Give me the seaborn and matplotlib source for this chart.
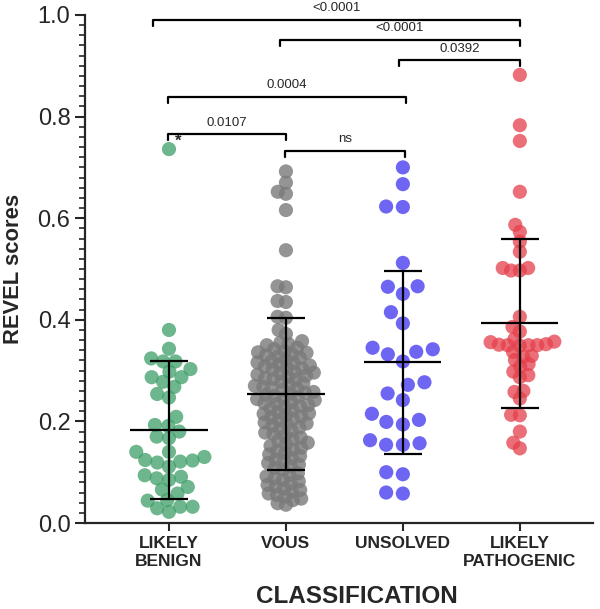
import numpy as np
import pandas as pd
import seaborn as sns
import matplotlib.pyplot as plt

# categories and colours
categories = ["LIKELY\nBENIGN", "VOUS", "UNSOLVED", "LIKELY\nPATHOGENIC"]
colors = ["#3E9E67", "#7A7A7A", "#6E66F2", "#E53F4B"]
alphas = [0.75, 0.8, 1.0, 0.75]

# REVEL scores
benign = [0.736, 0.380, 0.343, 0.324, 0.318, 0.318, 0.298, 0.303, 0.287, 0.287,
          0.278, 0.268, 0.254, 0.247, 0.209, 0.193, 0.180, 0.191, 0.170, 0.167,
          0.140, 0.140, 0.130, 0.123, 0.121, 0.111, 0.119, 0.124, 0.094, 0.088,
          0.091, 0.085, 0.071, 0.058, 0.066, 0.032, 0.032, 0.022, 0.044, 0.029,
          0.045]
vous = [0.692, 0.670, 0.652, 0.648, 0.616, 0.537, 0.466, 0.464, 0.437, 0.435,
        0.406, 0.404, 0.380, 0.372,
        0.350, 0.355, 0.345, 0.352, 0.358, 0.342,
        0.335, 0.330, 0.325, 0.338, 0.322, 0.332, 0.328, 0.336,
        0.318, 0.312, 0.305, 0.310, 0.302, 0.315, 0.308, 0.316, 0.304,
        0.298, 0.292, 0.285, 0.295, 0.288, 0.282, 0.296, 0.290, 0.284,
        0.275, 0.268, 0.262, 0.278, 0.272, 0.265, 0.270, 0.264,
        0.258, 0.252, 0.245, 0.255, 0.248, 0.242, 0.256, 0.250, 0.244,
        0.238, 0.232, 0.225, 0.235, 0.228, 0.222, 0.236, 0.230,
        0.218, 0.212, 0.205, 0.215, 0.208, 0.202, 0.216, 0.210,
        0.198, 0.192, 0.185, 0.195, 0.188, 0.182, 0.196,
        0.178, 0.172, 0.165, 0.175, 0.168, 0.162,
        0.158, 0.152, 0.145, 0.155, 0.148, 0.142,
        0.138, 0.132, 0.125, 0.135, 0.128, 0.122,
        0.118, 0.112, 0.105, 0.115, 0.108,
        0.098, 0.092, 0.085, 0.095, 0.088, 0.082,
        0.078, 0.072, 0.065, 0.075, 0.068, 0.062,
        0.058, 0.052, 0.045, 0.055, 0.048,
        0.039, 0.036]
unsolved = [0.700, 0.667, 0.623, 0.622, 0.512, 0.465, 0.466, 0.451, 0.415, 0.393,
            0.332, 0.342, 0.345, 0.337, 0.318, 0.277, 0.272, 0.255, 0.242, 0.203,
            0.194, 0.199, 0.215, 0.157, 0.154, 0.154, 0.163, 0.096, 0.100, 0.058,
            0.060]
pathogenic = [0.882, 0.783, 0.752, 0.652, 0.587, 0.573, 0.554, 0.534, 0.502, 0.497,
              0.497, 0.502, 0.406, 0.386, 0.377, 0.362, 0.350, 0.350, 0.350, 0.351,
              0.349, 0.352, 0.357, 0.356, 0.329, 0.337, 0.327, 0.321, 0.308, 0.313,
              0.298, 0.291, 0.287, 0.260, 0.258, 0.245, 0.213, 0.212, 0.180, 0.158,
              0.147]

# mean and SD bars as drawn in the figure
mean_vals = [0.183, 0.254, 0.316, 0.393]
sd_vals = [0.136, 0.150, 0.180, 0.166]

# significance brackets (category positions)
br_left = [-0.14, 0.95, 1.97, -0.01, -0.01, 0.99]
br_right = [3.0, 3.0, 3.0, 2.03, 1.0, 2.02]
br_y = [0.990, 0.951, 0.911, 0.839, 0.765, 0.733]
br_text = ["<0.0001", "<0.0001", "0.0392", "0.0004", "0.0107", "ns"]

# marker size used for swarm spacing per group, and the drawn size
layout_sizes = [8.5, 5.8, 11.5, 6.0]
marker_size = 10.2

groups = [benign, vous, unsolved, pathogenic]
df = pd.DataFrame({
    "cls": np.repeat(categories, [len(g) for g in groups]),
    "score": np.concatenate(groups),
})

sns.set_style("ticks")
plt.rcParams["font.family"] = ["Liberation Sans", "DejaVu Sans"]

fig = plt.figure(figsize=(6, 6.09), dpi=100)
ax = fig.add_axes([0.1417, 0.1412, 0.8463, 0.8342])

# lay out the swarm with smaller markers, then enlarge so points overlap like Prism
sns.swarmplot(data=df, x="cls", y="score", hue="cls", order=categories,
              hue_order=categories, palette=colors, size=7, linewidth=0,
              legend=False, ax=ax, zorder=2)
ax.set_xlim(-0.718, 3.624)
ax.set_ylim(0, 1.0)
for coll, s in zip(ax.collections, layout_sizes):
    coll.set_sizes([s ** 2])
fig.canvas.draw()
for coll, a in zip(ax.collections, alphas):
    if "draw" in coll.__dict__:
        del coll.draw
    coll.set_sizes([marker_size ** 2])
    coll.set_alpha(a)

xpos = np.arange(len(categories))
ax.errorbar(xpos, mean_vals, yerr=sd_vals, fmt="none", ecolor="black",
            elinewidth=1.6, capsize=14, capthick=1.6, zorder=3)
ax.hlines(mean_vals, xpos - 0.33, xpos + 0.33, color="black", lw=1.6, zorder=3)

# brackets
drop = 0.012
for l, r, y, t in zip(br_left, br_right, br_y, br_text):
    ax.plot([l, l, r, r], [y - drop, y, y, y - drop], color="black", lw=1.6,
            clip_on=False, zorder=4)
    ax.text((l + r) / 2, y + 0.011, t, ha="center", va="bottom", fontsize=9.5,
            clip_on=False)
ax.text(0.075, 0.752, "*", fontsize=12, fontweight="bold", ha="center", va="center")

ax.set_yticks(np.arange(0, 1.01, 0.2))
ax.set_yticklabels([f"{v:.1f}" for v in np.arange(0, 1.01, 0.2)])
ax.set_yticks(np.arange(0, 1.001, 0.02), minor=True)
ax.tick_params(axis="y", which="major", labelsize=17, length=7, width=1.5)
ax.tick_params(axis="y", which="minor", length=4, width=1.2)
ax.tick_params(axis="x", labelsize=12.5, length=6, width=1.5)
for lab in ax.get_xticklabels():
    lab.set_fontweight("bold")

ax.set_xlabel("CLASSIFICATION", fontsize=17.5, fontweight="bold", labelpad=12,
              x=0.535)
ax.set_ylabel("REVEL scores", fontsize=15.8, fontweight="bold", labelpad=10)

sns.despine(ax=ax)
for s in ["left", "bottom"]:
    ax.spines[s].set_linewidth(1.6)

fig.savefig("out.png", dpi=100)
